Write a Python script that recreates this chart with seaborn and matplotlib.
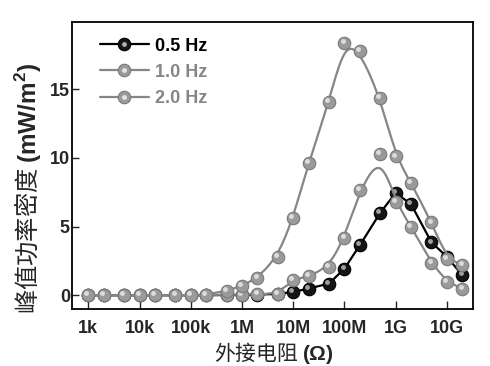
import numpy as np
import matplotlib
matplotlib.use('Agg')
import matplotlib.pyplot as plt
from matplotlib.lines import Line2D
from matplotlib.legend_handler import HandlerTuple
from matplotlib.transforms import offset_copy
import seaborn as sns

# resistance values (ohm)
resistance = [1e3, 2e3, 5e3, 1e4, 2e4, 5e4, 1e5, 2e5, 5e5, 1e6, 2e6, 5e6,
              1e7, 2e7, 5e7, 1e8, 2e8, 5e8, 1e9, 2e9, 5e9, 1e10, 2e10]

# peak power density (mW/m^2)
p_05hz = [0, 0, 0, 0, 0, 0, 0, 0, 0.02, 0.03, 0.05, 0.1,
          0.24, 0.49, 0.85, 1.94, 3.64, 6.0, 7.45, 6.62, 3.85, 2.8, 1.46]
p_10hz = [0, 0, 0, 0, 0, 0, 0, 0.02, 0.05, 0.05, 0.07, 0.12,
          1.14, 1.38, 2.06, 4.2, 7.64, 10.26, 6.8, 4.97, 2.35, 0.97, 0.49]
p_20hz = [0, 0, 0, 0, 0, 0, 0, 0.05, 0.32, 0.68, 1.26, 2.79,
          5.65, 9.63, 14.08, 18.37, 17.78, 14.36, 10.1, 8.17, 5.3, 2.65, 2.2]

labels = ['0.5 Hz', '1.0 Hz', '2.0 Hz']
xtick_vals = [1e3, 1e4, 1e5, 1e6, 1e7, 1e8, 1e9, 1e10]
xtick_labels = ['1k', '10k', '100k', '1M', '10M', '100M', '1G', '10G']
ytick_vals = [0, 5, 10, 15]


def bspline(xs, ys, n=25):
    # uniform cubic B-spline (data points as control points), clamped ends
    px = np.log10(np.asarray(xs, float))
    py = np.asarray(ys, float)
    px = np.concatenate([[px[0]] * 2, px, [px[-1]] * 2])
    py = np.concatenate([[py[0]] * 2, py, [py[-1]] * 2])
    t = np.linspace(0, 1, n)
    b0 = (1 - t) ** 3 / 6
    b1 = (3 * t ** 3 - 6 * t ** 2 + 4) / 6
    b2 = (-3 * t ** 3 + 3 * t ** 2 + 3 * t + 1) / 6
    b3 = t ** 3 / 6
    cx, cy = [], []
    for i in range(len(px) - 3):
        cx.append(b0 * px[i] + b1 * px[i + 1] + b2 * px[i + 2] + b3 * px[i + 3])
        cy.append(b0 * py[i] + b1 * py[i + 1] + b2 * py[i + 2] + b3 * py[i + 3])
    return 10 ** np.concatenate(cx), np.concatenate(cy)


sns.set_style('ticks')
plt.rcParams['font.family'] = ['Liberation Sans', 'Noto Sans CJK SC', 'DejaVu Sans']
plt.rcParams['font.weight'] = 'bold'
plt.rcParams['mathtext.fontset'] = 'custom'
plt.rcParams['mathtext.bf'] = 'Liberation Sans:bold'
plt.rcParams['mathtext.rm'] = 'Liberation Sans:bold'

fig = plt.figure(figsize=(4.9, 3.66), dpi=100)
ax = fig.add_axes([0.1469, 0.1557, 0.8174, 0.7842])

gray_line = '#868686'
gray_face = '#9a9a9a'
gray_edge = '#7a7a7a'
ms = 9
hl = offset_copy(ax.transData, fig=fig, x=-1.3, y=1.3, units='points')

# 0.5 Hz, straight segments
sns.lineplot(x=resistance, y=p_05hz, ax=ax, color='black', lw=1.6,
             marker='o', markersize=ms, markerfacecolor='#151515',
             markeredgecolor='#000000', markeredgewidth=0.8, zorder=3)
ax.plot(resistance, p_05hz, ls='none', marker='o', ms=3.5, mfc='#b0b0b0',
        mec='none', alpha=0.9, transform=hl, zorder=3.1)

# 1.0 Hz and 2.0 Hz, smooth curves
for k, vals in enumerate([p_10hz, p_20hz]):
    cx, cy = bspline(resistance, vals)
    sns.lineplot(x=cx, y=cy, ax=ax, color=gray_line, lw=1.6, sort=False,
                 estimator=None, zorder=4 + k)
    ax.plot(resistance, vals, ls='none', marker='o', ms=ms, mfc=gray_face,
            mec=gray_edge, mew=0.8, zorder=4.2 + k)
    ax.plot(resistance, vals, ls='none', marker='o', ms=3.5, mfc='#e4e4e4',
            mec='none', alpha=0.9, transform=hl, zorder=4.3 + k)

ax.set_xscale('log')
ax.set_xlim(481, 3.16e10)
ax.set_ylim(-1.0, 19.88)
ax.set_xticks(xtick_vals)
ax.set_xticklabels(xtick_labels)
ax.set_yticks(ytick_vals)
ax.tick_params(axis='both', which='both', direction='in', top=False, right=False,
               labelsize=13, width=1.0)
ax.tick_params(axis='x', which='major', length=6, pad=8)
ax.tick_params(axis='x', which='minor', length=3)
ax.tick_params(axis='y', which='major', length=5, pad=1.5)
for lab in ax.get_xticklabels() + ax.get_yticklabels():
    lab.set_fontweight('bold')
for sp in ax.spines.values():
    sp.set_linewidth(1.3)
    sp.set_color('black')

ax.set_xlabel('外接电阻 $\\mathbf{(\\Omega)}$', fontsize=15,
              family=['Noto Sans CJK SC', 'Liberation Sans'], fontweight='normal')
ax.xaxis.set_label_coords(0.503, -0.107)
ax.set_ylabel('峰值功率密度 $\\mathbf{(mW/m^2)}$', fontsize=17.5,
              family=['Noto Sans CJK SC', 'Liberation Sans'], fontweight='normal')
ax.yaxis.set_label_coords(-0.072, 0.42)

handles = []
for col, fc, hc in [('black', '#151515', '#b0b0b0'),
                    (gray_line, gray_face, '#e4e4e4'),
                    (gray_line, gray_face, '#e4e4e4')]:
    h1 = Line2D([], [], color=col, lw=1.6, marker='o', ms=ms, mfc=fc,
                mec=('#000000' if col == 'black' else gray_edge), mew=0.8)
    h2 = Line2D([], [], ls='none', marker='o', ms=3.5, mfc=hc, mec='none')
    handles.append((h1, h2))
leg = ax.legend(handles, labels, handler_map={tuple: HandlerTuple(ndivide=1)},
                loc='upper left', bbox_to_anchor=(0.07, 0.945), frameon=False,
                borderaxespad=0, borderpad=0, handlelength=2.7, handletextpad=0.35,
                labelspacing=0.5, prop={'family': 'Liberation Sans', 'weight': 'bold', 'size': 13})
for txt, c in zip(leg.get_texts(), ['black', gray_line, gray_line]):
    txt.set_color(c)

fig.savefig('out.png', dpi=100)
